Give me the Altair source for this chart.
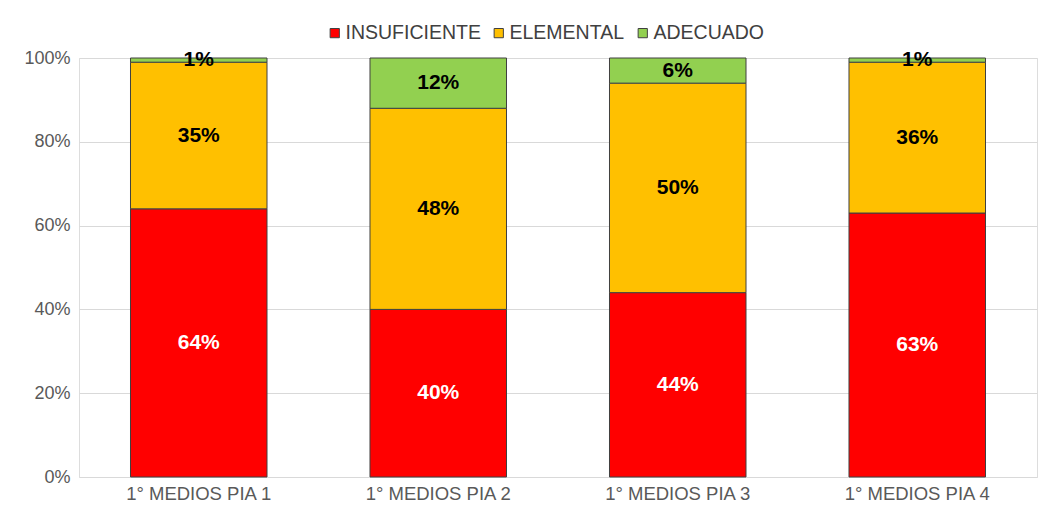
import altair as alt
import pandas as pd

categories = ["1° MEDIOS PIA 1", "1° MEDIOS PIA 2", "1° MEDIOS PIA 3", "1° MEDIOS PIA 4"]
levels = ["INSUFICIENTE", "ELEMENTAL", "ADECUADO"]
insuficiente = [0.64, 0.40, 0.44, 0.63]
elemental = [0.35, 0.48, 0.50, 0.36]
adecuado = [0.01, 0.12, 0.06, 0.01]
colors = ["#FF0000", "#FFC000", "#92D050"]
label_colors = ["#FFFFFF", "#000000", "#000000"]

rows = []
for i, c in enumerate(categories):
    for j, (lvl, vals) in enumerate(zip(levels, [insuficiente, elemental, adecuado])):
        rows.append({"cat": c, "level": lvl, "value": vals[i], "ord": j, "lc": label_colors[j]})
df = pd.DataFrame(rows)

FONT = "Liberation Sans"

base = alt.Chart(df).transform_stack(
    stack="value", groupby=["cat"], as_=["y0", "y1"], sort=[alt.SortField("ord", order="ascending")]
).transform_calculate(mid="(datum.y0 + datum.y1) / 2")

x = alt.X("cat:N", sort=categories, title=None,
          scale=alt.Scale(paddingInner=0.43, paddingOuter=0.215),
          axis=alt.Axis(labelAngle=0, ticks=False, domain=False, labelFontSize=18.5,
                        labelColor="#595959", labelFont=FONT, labelPadding=7))

bars = base.mark_bar(stroke="#404040", strokeWidth=1).encode(
    x=x,
    y=alt.Y("y0:Q", title=None, scale=alt.Scale(domain=[0, 1]),
            axis=alt.Axis(format="%", values=[0, 0.2, 0.4, 0.6, 0.8, 1.0], ticks=False, domain=False,
                          labelFontSize=18, labelColor="#595959", labelFont=FONT, labelPadding=9,
                          gridColor="#D9D9D9", gridWidth=1)),
    y2="y1:Q",
    color=alt.Color("level:N", sort=levels,
                    scale=alt.Scale(domain=levels, range=colors),
                    legend=alt.Legend(title=None, orient="none", direction="horizontal",
                                      legendX=246, legendY=-35,
                                      symbolType="square", symbolSize=85,
                                      symbolStrokeColor="#404040", symbolStrokeWidth=1,
                                      labelFontSize=19.5, labelColor="#404040", labelFont=FONT,
                                      labelOffset=1, columnPadding=8)),
)

labels = base.mark_text(fontSize=21, fontWeight="bold", font=FONT).encode(
    x=x,
    y=alt.Y("mid:Q"),
    text=alt.Text("value:Q", format=".0%"),
    color=alt.Color("lc:N", scale=None, legend=None),
)

chart = (bars + labels).properties(
    width=958, height=419,
    autosize=alt.AutoSizeParams(type="none"),
    padding={"left": 71, "top": 50, "right": 4, "bottom": 30},
).configure_view(stroke=None).configure(background="white")

chart.save("out.html", embed_options={"renderer": "svg", "actions": False})
